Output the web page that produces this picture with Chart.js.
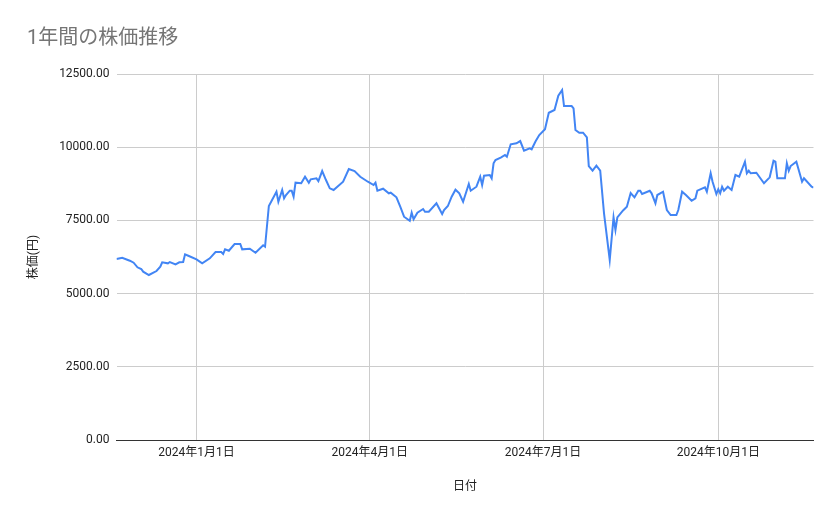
<!DOCTYPE html>
<html><head><meta charset="utf-8">
<script src="https://cdn.jsdelivr.net/npm/chart.js@4.4.1/dist/chart.umd.min.js"></script>
<style>html,body{margin:0;padding:0;background:#fff}#wrap{width:839px;height:519px}</style>
</head><body><div id="wrap"><canvas id="c" width="839" height="519"></canvas></div>
<script>
const chartTitle = "1年間の株価推移";
const xTitle = "日付";
const yTitle = "株価(円)";
const dates = [
"2023-11-20","2023-11-23","2023-11-27","2023-11-29","2023-12-01","2023-12-03","2023-12-04","2023-12-07","2023-12-11","2023-12-13",
"2023-12-14","2023-12-17","2023-12-18","2023-12-21","2023-12-23","2023-12-25","2023-12-26","2023-12-28","2024-01-01","2024-01-04",
"2024-01-08","2024-01-11","2024-01-14","2024-01-15","2024-01-16","2024-01-18","2024-01-21","2024-01-24","2024-01-25","2024-01-29",
"2024-02-01","2024-02-05","2024-02-06","2024-02-08","2024-02-12","2024-02-13","2024-02-15","2024-02-16","2024-02-17","2024-02-19",
"2024-02-20","2024-02-21","2024-02-22","2024-02-25","2024-02-27","2024-02-29","2024-03-01","2024-03-04","2024-03-05","2024-03-07",
"2024-03-09","2024-03-11","2024-03-13","2024-03-18","2024-03-21","2024-03-24","2024-03-27","2024-03-31","2024-04-03","2024-04-04",
"2024-04-05","2024-04-08","2024-04-11","2024-04-12","2024-04-15","2024-04-17","2024-04-19","2024-04-22","2024-04-23","2024-04-24",
"2024-04-26","2024-04-29","2024-04-30","2024-05-02","2024-05-06","2024-05-09","2024-05-10","2024-05-12","2024-05-14","2024-05-16",
"2024-05-18","2024-05-20","2024-05-23","2024-05-24","2024-05-27","2024-05-29","2024-05-30","2024-05-31","2024-06-03","2024-06-04",
"2024-06-05","2024-06-06","2024-06-09","2024-06-11","2024-06-12","2024-06-14","2024-06-17","2024-06-19","2024-06-21","2024-06-24",
"2024-06-25","2024-06-27","2024-06-29","2024-07-02","2024-07-04","2024-07-07","2024-07-09","2024-07-11","2024-07-12","2024-07-16",
"2024-07-17","2024-07-18","2024-07-20","2024-07-22","2024-07-24","2024-07-25","2024-07-27","2024-07-29","2024-07-31","2024-08-02",
"2024-08-05","2024-08-07","2024-08-08","2024-08-09","2024-08-12","2024-08-14","2024-08-16","2024-08-18","2024-08-20","2024-08-21",
"2024-08-22","2024-08-26","2024-08-27","2024-08-29","2024-08-30","2024-09-02","2024-09-04","2024-09-06","2024-09-09","2024-09-10",
"2024-09-12","2024-09-14","2024-09-17","2024-09-19","2024-09-20","2024-09-24","2024-09-25","2024-09-27","2024-09-28","2024-09-30",
"2024-10-01","2024-10-02","2024-10-03","2024-10-04","2024-10-06","2024-10-08","2024-10-10","2024-10-12","2024-10-15","2024-10-16",
"2024-10-17","2024-10-18","2024-10-21","2024-10-25","2024-10-28","2024-10-30","2024-10-31","2024-11-01","2024-11-05","2024-11-06",
"2024-11-07","2024-11-08","2024-11-11","2024-11-14","2024-11-15","2024-11-19","2024-11-20"
];
const prices = [
6180,6226,6123,6055,5898,5840,5748,5635,5771,5918,
6069,6034,6079,6000,6069,6079,6342,6284,6171,6034,
6205,6420,6420,6352,6512,6465,6693,6693,6512,6533,
6396,6649,6601,7991,8480,8138,8538,8254,8367,8514,
8514,8309,8787,8767,8992,8787,8903,8937,8845,9186,
8879,8596,8538,8821,9255,9186,8992,8821,8709,8787,
8514,8582,8425,8446,8288,7967,7626,7489,7762,7537,
7762,7889,7797,7797,8083,7718,7855,7991,8309,8550,
8425,8138,8742,8514,8650,8992,8709,9026,9050,8937,
9449,9562,9654,9733,9675,10098,10132,10211,9880,9962,
9928,10194,10416,10611,11177,11270,11758,11953,11406,11406,
11328,10587,10495,10495,10337,9357,9197,9367,9197,7742,
6150,7605,7172,7605,7840,7967,8435,8288,8514,8514,
8401,8514,8425,8083,8367,8480,7855,7684,7684,7855,
8480,8367,8172,8254,8514,8630,8480,9108,8821,8401,
8561,8425,8650,8514,8650,8538,9050,8992,9504,9108,
9197,9108,9129,8767,8971,9539,9504,8937,8937,9449,
9197,9357,9504,8821,8937,8650,8620
];
const xTickDates = ["2024-01-01","2024-04-01","2024-07-01","2024-10-01"];
const yTicks = [0, 2500, 5000, 7500, 10000, 12500];

const FONT = "Roboto, 'Noto Sans CJK JP', sans-serif";
const DAY = 86400000;
function toDay(s){ const p = s.split('-').map(Number); return Date.UTC(p[0], p[1]-1, p[2]) / DAY; }
function fmt(v){ const d = new Date(Math.round(v) * DAY); return d.getUTCFullYear() + "年" + (d.getUTCMonth()+1) + "月" + d.getUTCDate() + "日"; }

const points = dates.map((d, i) => ({ x: toDay(d), y: prices[i] }));

new Chart(document.getElementById('c'), {
  type: 'line',
  data: { datasets: [{ label: yTitle, data: points, borderColor: '#4285F4', borderWidth: 2, pointRadius: 0, tension: 0, fill: false }] },
  options: {
    responsive: false,
    animation: false,
    layout: { padding: { left: 27, right: 25.5, top: 0, bottom: 20 } },
    plugins: {
      legend: { display: false },
      tooltip: { enabled: false },
      title: { display: true, text: chartTitle, align: 'start', color: '#757575',
        font: { family: FONT, size: 20, weight: 'normal' }, padding: { top: 26.5, bottom: 23.5 } }
    },
    scales: {
      x: {
        type: 'linear',
        min: toDay(dates[0]),
        max: toDay(dates[dates.length - 1]),
        afterBuildTicks: s => { s.ticks = xTickDates.map(d => ({ value: toDay(d) })); },
        afterFit: s => { s.height = 59; },
        grid: { color: '#cccccc', drawTicks: false, lineWidth: 1 },
        border: { display: true, color: '#333333', width: 1 },
        ticks: { padding: 6, color: '#222222', font: { family: FONT, size: 12 }, maxRotation: 0, autoSkip: false, callback: v => fmt(v) },
        title: { display: true, text: xTitle, color: '#222222', font: { family: FONT, size: 12 }, padding: { top: 0, bottom: 5 } }
      },
      y: {
        min: 0,
        max: 12500,
        afterBuildTicks: s => { s.ticks = yTicks.map(v => ({ value: v })); },
        afterFit: s => { s.width = 89.5; },
        grid: { color: '#cccccc', drawTicks: false, lineWidth: 1 },
        border: { display: false },
        ticks: { padding: 7, color: '#222222', font: { family: FONT, size: 12 }, callback: v => Number(v).toFixed(2) },
        title: { display: true, text: yTitle, color: '#222222', font: { family: FONT, size: 12 }, padding: { top: 0, bottom: 0 } }
      }
    }
  }
});
</script>
</body></html>
